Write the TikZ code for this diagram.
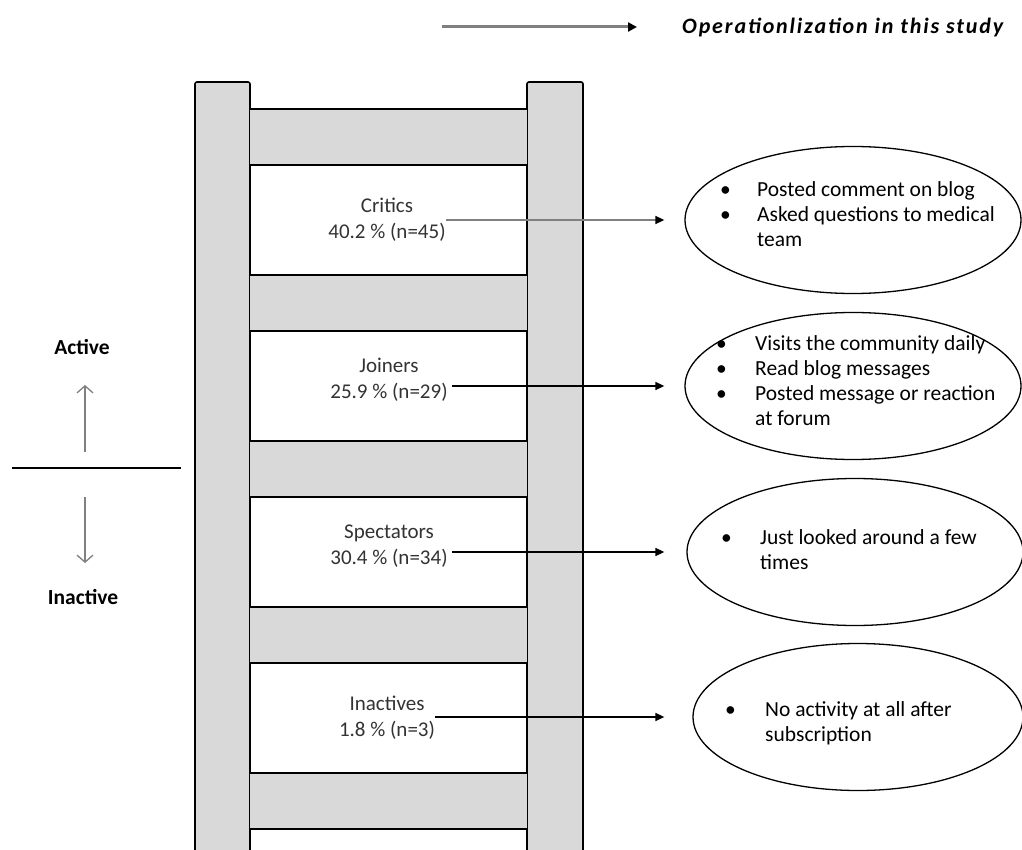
\documentclass[tikz,border=0pt]{standalone}
\usepackage{fontspec}
\setmainfont{Carlito}
\usetikzlibrary{shapes.geometric,arrows.meta}
\definecolor{railgray}{HTML}{D9D9D9}
\definecolor{txtgray}{HTML}{333333}
\begin{document}
\begin{tikzpicture}[x=1pt,y=-1pt,
  rail/.style={draw=black, line width=1.6pt, fill=railgray, rounded corners=2pt},
  rungline/.style={line width=1.6pt},
  lbl/.style={align=center, font=\fontsize{21}{26}\selectfont, text=txtgray, inner sep=0pt},
  oval/.style={ellipse, draw=black, line width=1.3pt, minimum width=336pt, minimum height=147pt, inner sep=0pt},
  conn/.style={line width=1.5pt, -{Triangle[length=9pt,width=8pt,color=black]}},
  blist/.style={anchor=base west, inner sep=0pt, font=\fontsize{21.5}{25}\selectfont},
  side/.style={font=\bfseries\fontsize{21.5}{25}\selectfont, inner sep=0pt},
  updown/.style={draw=gray, line width=1.3pt, -{Straight Barb[length=7pt,width=16pt]}}
]
\clip (0,0) rectangle (1022,850);
\fill[white] (0,0) rectangle (1022,850);

% legend
\coordinate (la) at (442,27);
\coordinate (lb) at (637,27);
\draw[line width=3pt, draw=gray, -{Triangle[length=9pt,width=9pt,color=black]}] (la) -- (lb);
\node[anchor=west, inner sep=0pt, font=\bfseries\itshape\fontsize{22}{25}\selectfont\addfontfeatures{LetterSpace=8.5}] (leg) at (682,28) {Operationlization in this study};

% ladder rails
\draw[rail] (195,82) rectangle (250,870);
\draw[rail] (527,82) rectangle (583,870);

% rungs
\foreach \y in {109,275,441,607,773}{
  \fill[railgray] (250,\y) rectangle (527,\y+56);
  \draw[rungline] (250,\y) -- (527,\y);
  \draw[rungline] (250,\y+56) -- (527,\y+56);
}

% labels on the ladder
\node[lbl] (l1) at (387,220) {Critics\\40.2 \% (n=45)};
\node[lbl] (l2) at (389,380) {Joiners\\25.9 \% (n=29)};
\node[lbl] (l3) at (389,546) {Spectators\\30.4 \% (n=34)};
\node[lbl] (l4) at (387,718) {Inactives\\1.8 \% (n=3)};

% ellipses
\node[oval] (e1) at (853,220) {};
\node[oval] (e2) at (853,386) {};
\node[oval] (e3) at (855,552) {};
\node[oval, minimum width=330pt] (e4) at (858,717) {};

% bullet texts
\node[blist] (b1) at (720,197) {\begin{tabular}[t]{@{}p{37pt}@{}l@{}}\textbullet & Posted comment on blog\\ \textbullet & Asked questions to medical\\ & team\end{tabular}};
\node[blist] (b2) at (716,350) {\begin{tabular}[t]{@{}p{39pt}@{}l@{}}\textbullet & Visits the community daily\\ \textbullet & Read blog messages\\ \textbullet & Posted message or reaction\\ & at forum\end{tabular}};
\node[blist] (b3) at (721,544) {\begin{tabular}[t]{@{}p{39pt}@{}l@{}}\textbullet & Just looked around a few\\ & times\end{tabular}};
\node[blist] (b4) at (725,716) {\begin{tabular}[t]{@{}p{40pt}@{}l@{}}\textbullet & No activity at all after\\ & subscription\end{tabular}};

% connectors
\draw[conn, draw=gray, shorten >=20pt] (l1.east |- e1.center) -- (e1.west);
\draw[conn, shorten >=20pt] ([xshift=4pt]l2.east |- e2.center) -- (e2.west);
\draw[conn, shorten >=22pt] ([xshift=4pt]l3.east |- e3.center) -- (e3.west);
\draw[conn, shorten >=28pt] (l4.east |- e4.center) -- (e4.west);

% left side
\node[side] (act) at (82,347) {Active};
\node[side] (inact) at (83,597) {Inactive};
\coordinate (sepL) at (12,468);
\coordinate (sepR) at (181,468);
\draw[line width=2pt] (sepL) -- (sepR);
\coordinate (upA) at (85,452);
\coordinate (upB) at (85,385);
\coordinate (dnA) at (85,497);
\coordinate (dnB) at (85,563);
\draw[updown] (upA) -- (upB);
\draw[updown] (dnA) -- (dnB);
\end{tikzpicture}
\end{document}
